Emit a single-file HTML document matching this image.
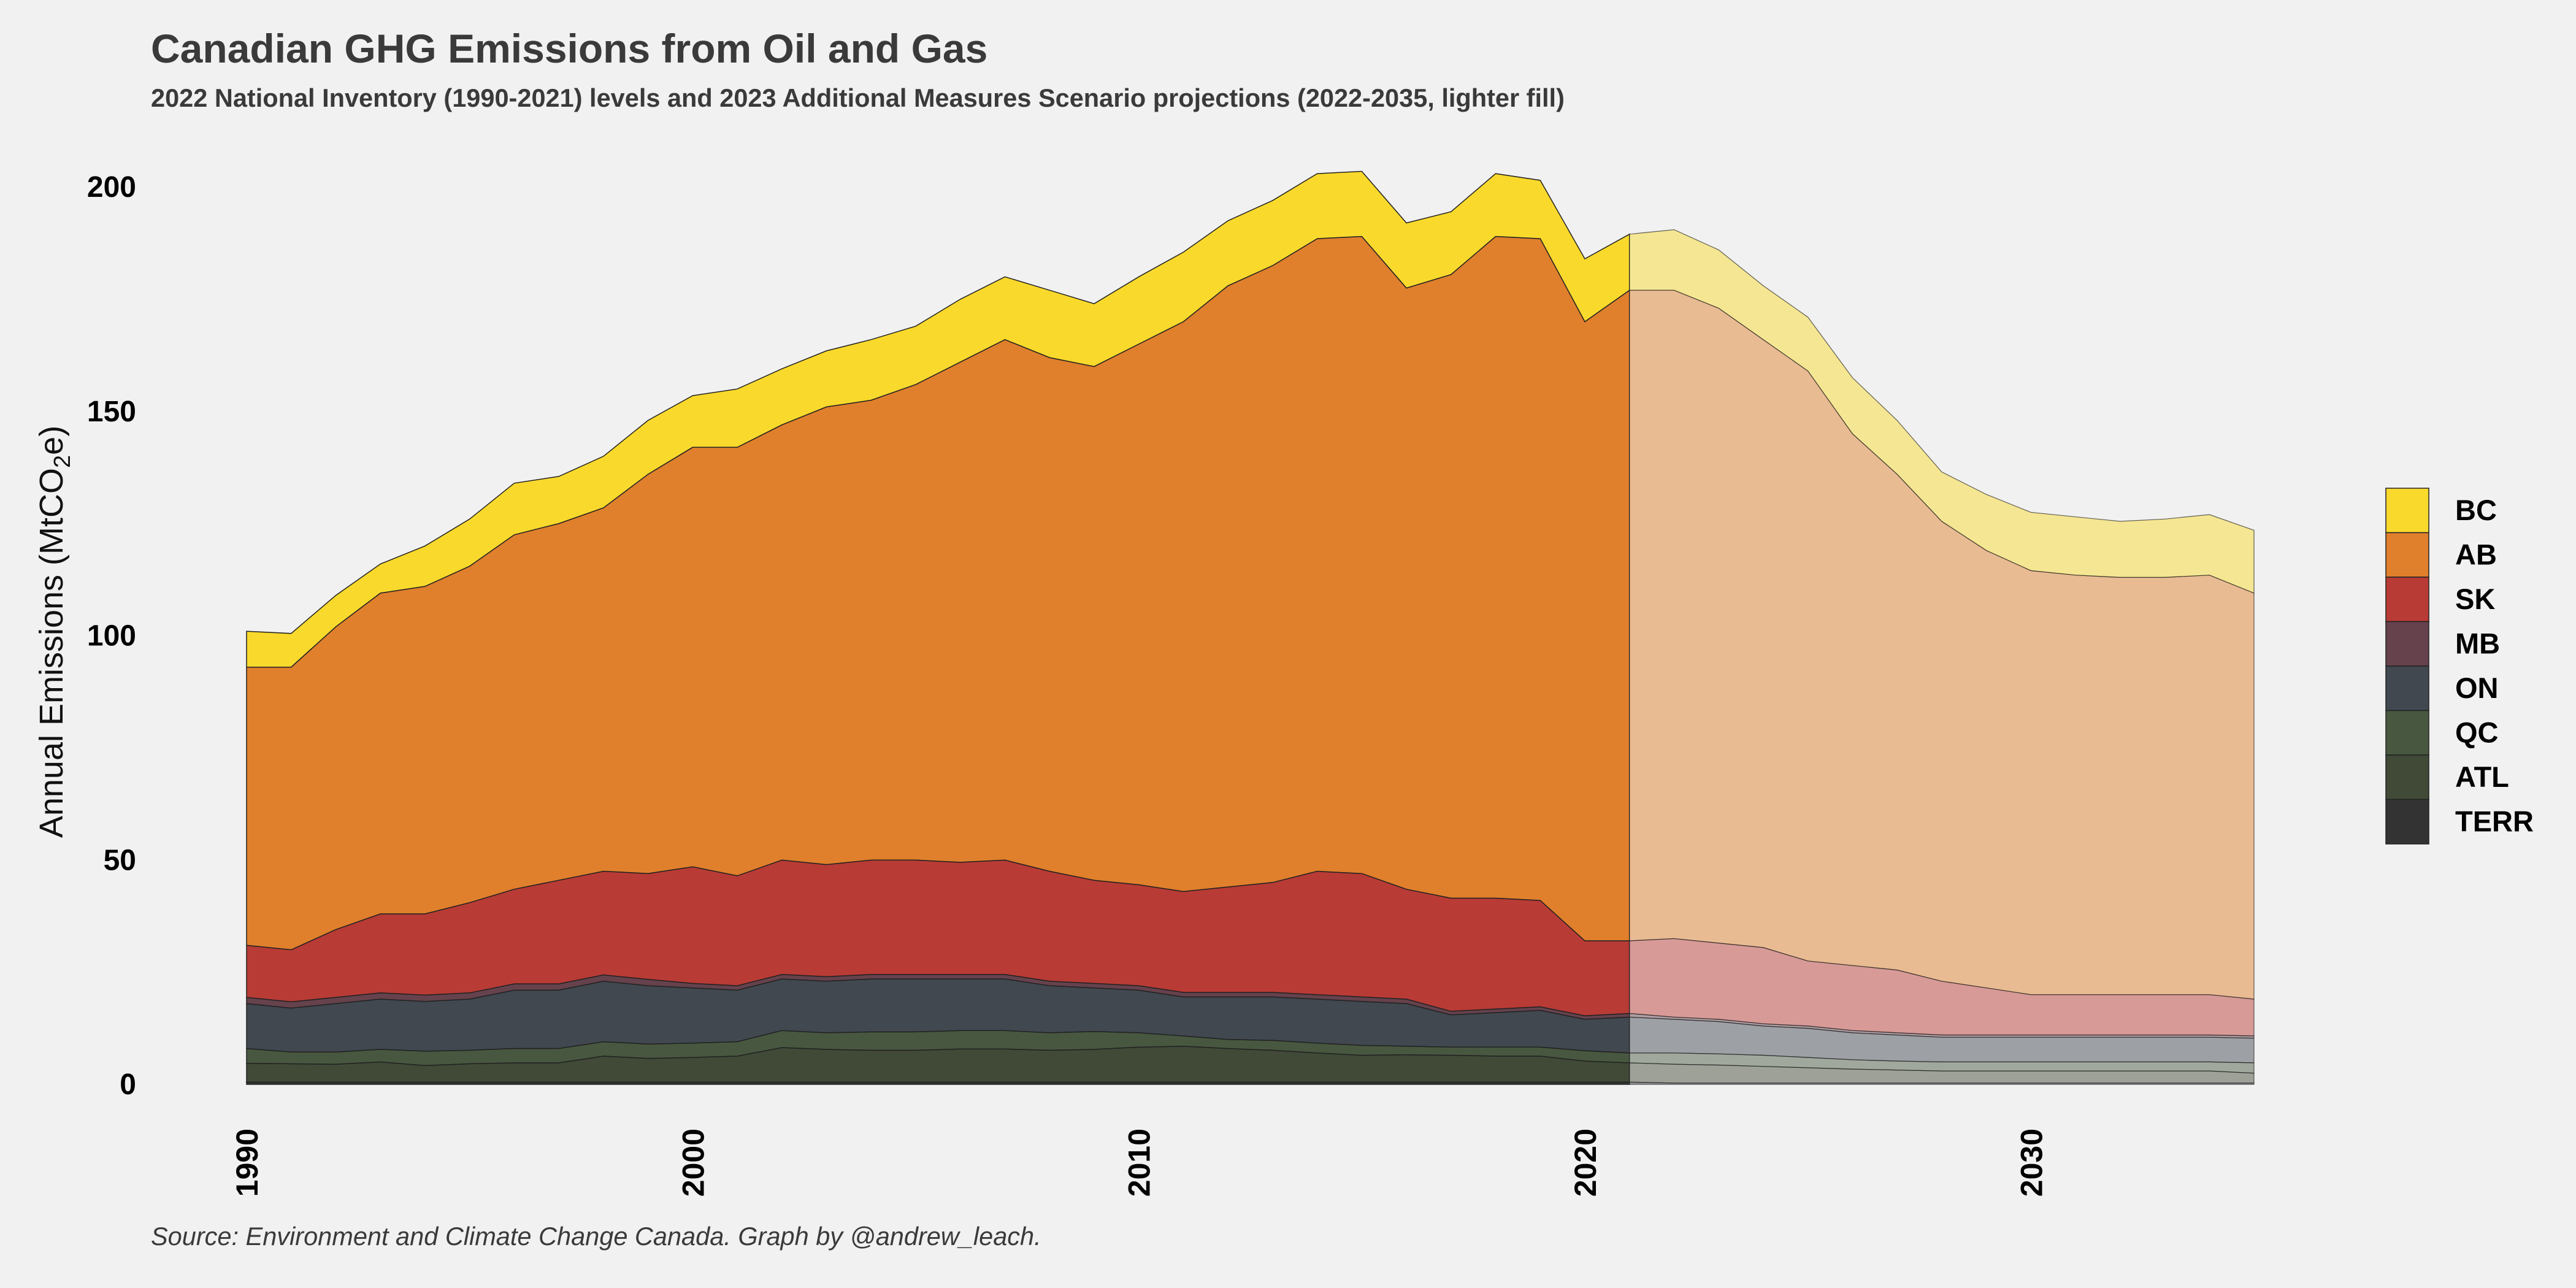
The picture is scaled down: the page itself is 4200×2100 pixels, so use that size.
<!DOCTYPE html>
<html><head><meta charset="utf-8">
<style>
html,body{margin:0;padding:0;background:#f1f1f1;}
svg{display:block;font-family:"Liberation Sans",Arial,sans-serif;}
</style></head>
<body>
<svg id="chart" width="4200" height="2100" viewBox="0 0 4200 2100" xmlns="http://www.w3.org/2000/svg">
<rect width="4200" height="2100" fill="#f1f1f1"/>
<text x="246" y="102" font-size="66" font-weight="bold" fill="#3a3a3a">Canadian GHG Emissions from Oil and Gas</text>
<text x="246" y="174" font-size="41.5" font-weight="bold" fill="#3a3a3a">2022 National Inventory (1990-2021) levels and 2023 Additional Measures Scenario projections (2022-2035, lighter fill)</text>
<g id="plot"></g>
<g id="yaxis"></g>
<g id="xaxis"></g>
<text transform="translate(102,1030) rotate(-90)" text-anchor="middle" font-size="54" fill="#111">Annual Emissions  (MtCO<tspan font-size="38" dy="12">2</tspan><tspan dy="-12">e)</tspan></text>
<g id="legend"></g>
<text x="246" y="2030" font-size="41.5" font-style="italic" fill="#3a3a3a">Source: Environment and Climate Change Canada. Graph by @andrew_leach.</text>
</svg>
<script>
const years = [1990,1991,1992,1993,1994,1995,1996,1997,1998,1999,2000,2001,2002,2003,2004,2005,2006,2007,2008,2009,2010,2011,2012,2013,2014,2015,2016,2017,2018,2019,2020,2021,2022,2023,2024,2025,2026,2027,2028,2029,2030,2031,2032,2033,2034,2035];
const lastHistYear = 2021;
const seriesNames = ["TERR","ATL","QC","ON","MB","SK","AB","BC"];
const terr = [0.5,0.5,0.5,0.5,0.5,0.5,0.5,0.5,0.5,0.5,0.5,0.5,0.5,0.5,0.5,0.5,0.5,0.5,0.5,0.5,0.5,0.5,0.5,0.5,0.5,0.5,0.5,0.5,0.5,0.5,0.5,0.5,0.3,0.3,0.3,0.3,0.3,0.3,0.3,0.3,0.3,0.3,0.3,0.3,0.3,0.3];
const atl = [4.2,4.1,4.0,4.5,3.7,4.1,4.3,4.3,5.8,5.3,5.5,5.8,7.7,7.3,7.1,7.1,7.4,7.4,7.1,7.3,7.8,8.0,7.5,7.1,6.5,6.0,6.1,6.0,5.8,5.8,4.7,4.3,4.2,4.0,3.7,3.4,3.1,2.9,2.7,2.7,2.7,2.7,2.7,2.7,2.7,2.2];
const qc = [3.3,2.6,2.7,2.8,3.2,3.0,3.2,3.2,3.2,3.2,3.2,3.2,3.8,3.7,4.1,4.1,4.1,4.1,3.9,4.0,3.2,2.3,2.0,2.2,2.2,2.2,1.9,1.8,2.0,2.0,2.3,2.2,2.5,2.5,2.5,2.3,2.1,2.0,2.0,2.0,2.0,2.0,2.0,2.0,2.0,2.3];
const on = [10,9.8,10.8,11.2,11.1,11.4,13,13,13.5,13,12.3,11.5,11.5,11.5,11.8,11.8,11.5,11.5,10.5,9.7,9.5,8.7,9.5,9.7,9.8,9.8,9.5,7.2,7.7,8.2,7,8,7.5,7.2,6.5,6.5,6,5.8,5.5,5.5,5.5,5.5,5.5,5.5,5.5,5.5];
const mb = [1.4,1.4,1.4,1.4,1.4,1.4,1.4,1.4,1.4,1.4,1,1,1,1,1,1,1,1,1,1,1,1,1,1,1,1,1,0.8,0.8,0.8,0.8,0.8,0.5,0.5,0.5,0.5,0.5,0.5,0.5,0.5,0.5,0.5,0.5,0.5,0.5,0.5];
const sk = [11.6,11.6,15.1,17.6,18.1,20.1,21.1,23.1,23.1,23.6,26,24.5,25.5,25,25.5,25.5,25,25.5,24.5,23,22.5,22.5,23.5,24.5,27.5,27.5,24.5,25.2,24.7,23.7,16.7,16.2,17.5,17,17,14.5,14.5,14,12,10.5,9,9,9,9,9,8.2];
const ab = [62,63,67.5,71.5,73,75,79,79.5,81,89,93.5,95.5,97,102,102.5,106,111.5,116,114.5,114.5,120.5,127,134,137.5,141,142,134,139,147.5,147.5,138,145,144.5,141.5,135.5,131.5,118.5,110.5,102.5,97.5,94.5,93.5,93,93,93.5,90.5];
const bc = [8,7.5,7,6.5,9,10.5,11.5,10.5,11.5,12,11.5,13,12.5,12.5,13.5,13,14,14,15,14,15,15.5,14.5,14.5,14.5,14.5,14.5,14,14,13,14,12.5,13.5,13,12,12,12.5,12,11,12.5,13,13,12.5,13,13.5,14];
const yTicks = [0,50,100,150,200];
const xTicks = [1990,2000,2010,2020,2030];
const legendOrder = ["BC","AB","SK","MB","ON","QC","ATL","TERR"];

const colors = {BC:"#f9d92c",AB:"#e07f2c",SK:"#b93b35",MB:"#66424d",ON:"#41484f",QC:"#485840",ATL:"#404a37",TERR:"#333333"};
const values = {TERR:terr,ATL:atl,QC:qc,ON:on,MB:mb,SK:sk,AB:ab,BC:bc};
const NS="http://www.w3.org/2000/svg";
const X0=402,X1=3675,Y0=1768,Y200=305;
const xs=y=>X0+(y-1990)*(X1-X0)/(2035-1990);
const ys=v=>Y0-v*(Y0-Y200)/200;
const plot=document.getElementById('plot');
const cum=[];let base=years.map(()=>0);
seriesNames.forEach(n=>{const top=base.map((b,i)=>b+values[n][i]);cum.push({n,lo:base,hi:top});base=top;});
const splitIdx=years.indexOf(lastHistYear);
function areaPath(lo,hi,a,b){let d='';for(let i=a;i<=b;i++)d+=(i===a?'M':'L')+xs(years[i]).toFixed(1)+','+ys(hi[i]).toFixed(1);for(let i=b;i>=a;i--)d+='L'+xs(years[i]).toFixed(1)+','+ys(lo[i]).toFixed(1);return d+'Z';}
cum.forEach(s=>{
  const p=document.createElementNS(NS,'path');
  p.setAttribute('d',areaPath(s.lo,s.hi,0,splitIdx));
  p.setAttribute('fill',colors[s.n]);p.setAttribute('stroke','#222');p.setAttribute('stroke-width','1.5');
  
  
  plot.appendChild(p);
  const q=document.createElementNS(NS,'path');
  q.setAttribute('d',areaPath(s.lo,s.hi,splitIdx,years.length-1));
  q.setAttribute('fill',colors[s.n]);q.setAttribute('fill-opacity','0.48');q.setAttribute('stroke','#222');q.setAttribute('stroke-width','1.2');q.setAttribute('stroke-opacity','0.7');
  
  
  plot.appendChild(q);
});
const ya=document.getElementById('yaxis');
yTicks.forEach(t=>{const e=document.createElementNS(NS,'text');e.setAttribute('x',222);e.setAttribute('y',ys(t)+16);e.setAttribute('text-anchor','end');e.setAttribute('font-size','48');e.setAttribute('font-weight','bold');e.setAttribute('fill','#000');e.textContent=t;


ya.appendChild(e);});
const xa=document.getElementById('xaxis');
xTicks.forEach(t=>{const e=document.createElementNS(NS,'text');e.setAttribute('transform','translate('+(xs(t)+18)+',1840) rotate(-90)');e.setAttribute('text-anchor','end');e.setAttribute('font-size','50');e.setAttribute('font-weight','bold');e.setAttribute('fill','#000');e.textContent=t;


xa.appendChild(e);});
const lg=document.getElementById('legend');
legendOrder.forEach((n,i)=>{const y=796+i*72.5;
const r=document.createElementNS(NS,'rect');r.setAttribute('x',3890);r.setAttribute('y',y);r.setAttribute('width',70);r.setAttribute('height',72.5);r.setAttribute('fill',colors[n]);r.setAttribute('stroke','#222');r.setAttribute('stroke-width','1.5');


lg.appendChild(r);
const t=document.createElementNS(NS,'text');t.setAttribute('x',4003);t.setAttribute('y',y+52);t.setAttribute('font-size','47');t.setAttribute('font-weight','bold');t.setAttribute('fill','#000');t.textContent=n;


lg.appendChild(t);});
</script>
</body></html>
